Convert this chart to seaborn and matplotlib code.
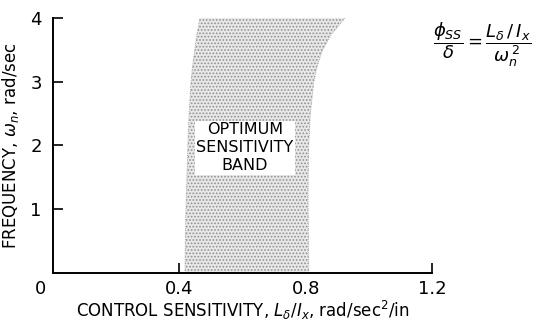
import matplotlib
matplotlib.use("Agg")
import matplotlib.pyplot as plt
import seaborn as sns

# band boundaries
freq = [0, 0.5, 1.0, 1.5, 2.0, 2.5, 3.0, 3.25, 3.5, 3.75, 4.0]
sens_low = [0.418, 0.419, 0.421, 0.424, 0.427, 0.431, 0.437, 0.442, 0.449, 0.456, 0.465]
sens_high = [0.810, 0.809, 0.808, 0.808, 0.810, 0.815, 0.826, 0.837, 0.854, 0.883, 0.925]

x_ticks = [0.4, 0.8, 1.2]
y_ticks = [1, 2, 3, 4]

sns.set_style("ticks")
plt.rcParams["font.family"] = ["DejaVu Sans"]
plt.rcParams["mathtext.fontset"] = "dejavusans"
plt.rcParams["text.color"] = "black"
plt.rcParams["axes.labelcolor"] = "black"
plt.rcParams["hatch.linewidth"] = 0.8

fig = plt.figure(figsize=(5.4, 3.25), dpi=100)
ax = fig.add_axes([0.098, 0.16, 0.702, 0.785])

ax.fill_betweenx(freq, sens_low, sens_high, facecolor="#e8e8e8",
                 edgecolor="#909090", hatch=".....", linewidth=0)
ax.plot(sens_low, freq, color="#999999", lw=0.6, ls=":")
ax.plot(sens_high, freq, color="#999999", lw=0.6, ls=":")

ax.text(0.608, 1.96, "OPTIMUM\nSENSITIVITY\nBAND", ha="center", va="center",
        fontsize=11.5, linespacing=1.25,
        bbox=dict(facecolor="white", edgecolor="none", pad=0.8))

ax.set_xlim(0, 1.2)
ax.set_ylim(0, 4)
ax.set_xticks(x_ticks)
ax.set_xticklabels(["0.4", "0.8", "1.2"])
ax.set_yticks(y_ticks)
ax.set_yticklabels(["1", "2", "3", "4"])
ax.tick_params(direction="in", length=7, width=1.2, labelsize=13,
               colors="black")
ax.tick_params(axis="x", pad=5)
ax.tick_params(axis="y", pad=8)
for s in ["left", "bottom"]:
    ax.spines[s].set_linewidth(1.4)
    ax.spines[s].set_color("black")
sns.despine(ax=ax)

ax.text(-0.04, -0.25, "0", fontsize=13, ha="center", va="center")

ax.set_xlabel(r"CONTROL SENSITIVITY, $L_{\delta}/I_{x}$, rad/sec$^2$/in",
              fontsize=12, labelpad=1)
ax.set_ylabel(r"FREQUENCY, $\omega_n$, rad/sec", fontsize=12, labelpad=7)

fig.text(0.893, 0.862,
         r"$\dfrac{\phi_{SS}}{\delta} = \dfrac{L_{\delta}\,/\,I_{x}}{\omega_{n}^{\,2}}$",
         fontsize=13, ha="center", va="center")

fig.savefig("out.png", dpi=100, facecolor="white")
